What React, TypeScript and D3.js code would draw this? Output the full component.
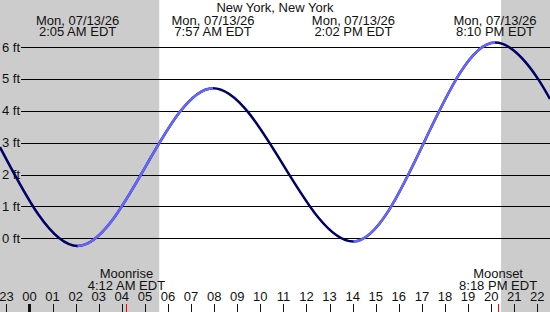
import * as d3 from "d3";

// tide curve readings (hours from local midnight, feet)
const tideHours = [-1.28, 2.083, 7.95, 14.033, 20.167, 22.03, 22.55];
const tideFeet = [2.86, -0.24, 4.71, -0.1, 6.14, 5.0, 4.37];

// high / low events
const eventHours = [2.083, 7.95, 14.033, 20.167];
const eventDates = ["Mon, 07/13/26", "Mon, 07/13/26", "Mon, 07/13/26", "Mon, 07/13/26"];
const eventTimes = ["2:05 AM EDT", "7:57 AM EDT", "2:02 PM EDT", "8:10 PM EDT"];

// rising tide intervals (drawn light)
const risingFrom = [2.083, 14.033];
const risingTo = [7.95, 20.167];

const sunrise = 5.62;
const sunset = 20.43;

const moonHours = [4.2, 20.3];
const moonNames = ["Moonrise", "Moonset"];
const moonTimes = ["4:12 AM EDT", "8:18 PM EDT"];

const feetTicks = [0, 1, 2, 3, 4, 5, 6];
const hourTicks = d3.range(-1, 23);

const title = "New York, New York";

export default function App() {
  const width = 550;
  const height = 312;
  const font = "'Liberation Sans', Arial, sans-serif";

  const x = d3.scaleLinear().domain([-1.278, 22.55]).range([0, width]);
  const y = d3.scaleLinear().domain([0, 6]).range([238.3, 47]);

  const pts: [number, number][] = tideHours.map((h, i) => [h, tideFeet[i]]);
  const line = d3
    .line<[number, number]>()
    .x(d => x(d[0]))
    .y(d => y(d[1]))
    .curve(d3.curveMonotoneX);
  const path = line(pts) || "";

  const [x0, x1] = x.domain();

  return (
    <svg
      width={width}
      height={height}
      style={{ position: "absolute", left: 0, top: 0, background: "#fff" }}
      fontFamily={font}
      fontSize={13}
    >
      <defs>
        <clipPath id="rising">
          {risingFrom.map((f, i) => (
            <rect key={i} x={x(f)} y={0} width={x(risingTo[i]) - x(f)} height={height} />
          ))}
        </clipPath>
      </defs>

      {/* night shading */}
      <rect x={x(x0)} y={0} width={x(sunrise) - x(x0)} height={height} fill="#cccccc" />
      <rect x={x(sunset)} y={0} width={x(x1) - x(sunset)} height={height} fill="#cccccc" />

      {/* grid lines + feet labels */}
      {feetTicks.map(f => (
        <g key={f}>
          <line x1={21} x2={width} y1={Math.round(y(f)) + 0.5} y2={Math.round(y(f)) + 0.5} stroke="#000" strokeWidth={1} />
          <text x={2} y={y(f) + 4.5} fill="#111">
            {f} ft
          </text>
        </g>
      ))}

      {/* tide curve */}
      <path d={path} fill="none" stroke="#000066" strokeWidth={2.5} />
      <path d={path} fill="none" stroke="#6666ff" strokeWidth={2.5} clipPath="url(#rising)" />

      <text x={width / 2} y={12} textAnchor="middle" fill="#111">
        {title}
      </text>

      {/* event labels */}
      {eventHours.map((h, i) => (
        <g key={i} textAnchor="middle" fill="#111">
          <text x={x(h)} y={24.5}>{eventDates[i]}</text>
          <text x={x(h)} y={36}>{eventTimes[i]}</text>
        </g>
      ))}

      {/* hour axis */}
      {hourTicks.map(h => {
        const hx = x(h);
        const label = String((h + 24) % 24).padStart(2, "0");
        return (
          <g key={h}>
            {h === 0 ? (
              <rect x={hx - 1.5} y={304} width={3} height={8} fill="#111" />
            ) : (
              <line x1={Math.round(hx) + 0.5} x2={Math.round(hx) + 0.5} y1={304} y2={312} stroke="#111" />
            )}
            <text x={hx} y={300.5} textAnchor="middle" fill="#111">
              {label}
            </text>
          </g>
        );
      })}

      {/* moon events */}
      {moonHours.map((h, i) => (
        <g key={i}>
          <line x1={Math.round(x(h)) + 0.5} x2={Math.round(x(h)) + 0.5} y1={304} y2={312} stroke="#ff0000" />
          <text x={x(h)} y={278} textAnchor="middle" fill="#111">{moonNames[i]}</text>
          <text x={x(h)} y={289.5} textAnchor="middle" fill="#111">{moonTimes[i]}</text>
        </g>
      ))}
    </svg>
  );
}
